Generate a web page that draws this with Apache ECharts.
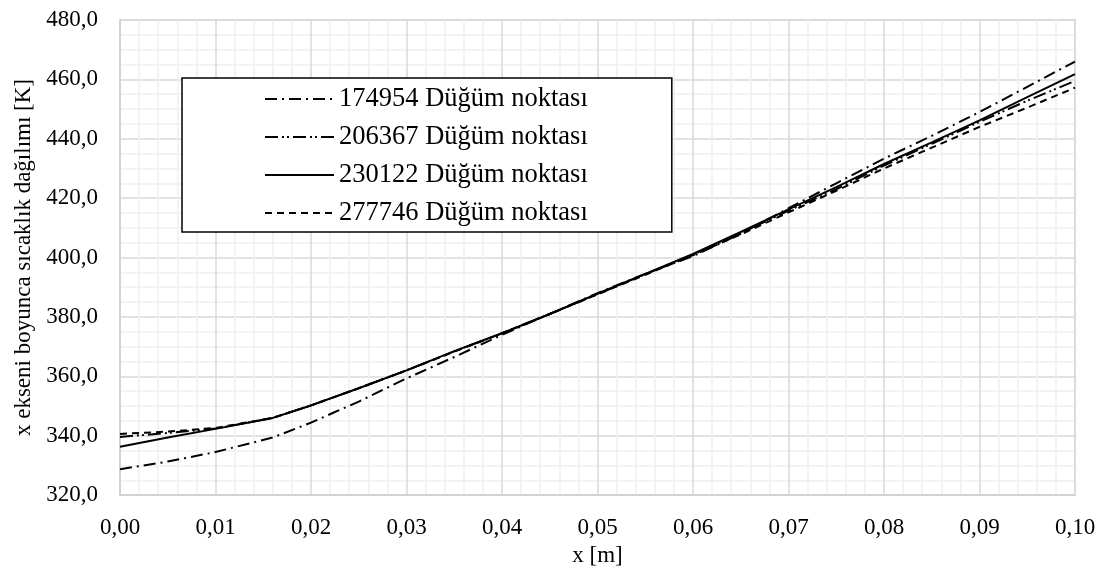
<!DOCTYPE html>
<html>
<head>
<meta charset="utf-8">
<script src="https://cdn.jsdelivr.net/npm/echarts@6/dist/echarts.min.js"></script>
<style>
  html, body { margin: 0; padding: 0; background: #fff; }
  #chart { width: 1104px; height: 572px; }
</style>
</head>
<body>
<div id="chart"></div>
<script>
// Position along the x axis [m]
const xPositions = [0, 0.005, 0.01, 0.016, 0.02, 0.025, 0.03, 0.035, 0.04, 0.045, 0.05,
                    0.055, 0.06, 0.065, 0.07, 0.075, 0.08, 0.085, 0.09, 0.095, 0.1];

// Temperature [K] for each mesh size
const mesh174954 = [328.7, 331.3, 334.5, 339.4, 344.4, 351.5, 359.3, 366.5, 374.0, 381.0, 388.0,
                    394.5, 400.5, 408.0, 416.6, 425.0, 433.3, 441.0, 449.0, 457.5, 466.0];
const mesh206367 = [339.6, 340.9, 342.4, 346.0, 350.2, 356.0, 362.0, 368.4, 374.5, 381.0, 387.7,
                    394.4, 401.0, 408.2, 415.8, 423.0, 431.0, 438.3, 445.7, 452.8, 459.5];
const mesh230122 = [336.3, 339.4, 342.3, 346.0, 350.2, 356.0, 362.0, 368.5, 374.5, 381.0, 387.8,
                    394.5, 401.2, 408.6, 416.2, 423.7, 431.5, 438.8, 446.2, 454.0, 461.8];
const mesh277746 = [340.6, 341.4, 342.6, 346.0, 350.2, 356.0, 362.0, 368.3, 374.5, 381.0, 387.6,
                    394.2, 400.8, 407.8, 415.2, 422.5, 430.0, 437.0, 444.0, 450.5, 457.2];

const seriesNames = ['174954 Düğüm noktası', '206367 Düğüm noktası',
                     '230122 Düğüm noktası', '277746 Düğüm noktası'];
const seriesValues = [mesh174954, mesh206367, mesh230122, mesh277746];

// Axis ranges and tick steps
const xMin = 0, xMax = 0.1, xStep = 0.01;
const yMin = 320, yMax = 480, yStep = 20;

// Line patterns: dash-dot, dash-dot-dot, solid, dashed
const dashPatterns = [[12, 5, 2, 5], [13, 4, 2, 3, 2, 4], 'solid', [7, 5]];

const serif = '"Liberation Serif", "Times New Roman", serif';

const chart = echarts.init(document.getElementById('chart'), null, { renderer: 'canvas' });

chart.setOption({
  animation: false,
  backgroundColor: '#ffffff',
  textStyle: { fontFamily: serif, color: '#000' },
  grid: {
    left: 120, right: 29, top: 20, bottom: 72,
    show: true, borderColor: '#d9d9d9', borderWidth: 1.5
  },
  legend: {
    orient: 'vertical',
    left: 182, top: 78,
    padding: [6, 84, 4, 82],
    backgroundColor: '#fff',
    borderColor: '#000',
    borderWidth: 1.5,
    borderRadius: 0,
    itemWidth: 69,
    itemHeight: 14,
    itemGap: 8,
    selectedMode: false,
    // keep only the line sample in each legend entry
    itemStyle: { color: 'rgba(0,0,0,0)', borderColor: 'rgba(0,0,0,0)', borderWidth: 0, opacity: 0 },
    textStyle: { fontFamily: serif, fontSize: 26.5, color: '#000', lineHeight: 30 },
    data: seriesNames
  },
  xAxis: {
    type: 'value',
    min: xMin, max: xMax, interval: xStep,
    name: 'x [m]',
    nameLocation: 'middle',
    nameGap: 45,
    nameTextStyle: { fontFamily: serif, fontSize: 23, color: '#000' },
    axisLine: { show: true, lineStyle: { color: '#d0d0d0', width: 1.5 } },
    axisTick: { show: false },
    axisLabel: {
      margin: 21, fontFamily: serif, fontSize: 23, color: '#000',
      formatter: v => v.toFixed(2).replace('.', ',')
    },
    splitLine: { show: true, lineStyle: { color: '#d9d9d9', width: 1.5 } },
    minorTick: { show: false, splitNumber: 5 },
    minorSplitLine: { show: true, lineStyle: { color: '#f0f0f0', width: 1.5 } }
  },
  yAxis: {
    type: 'value',
    min: yMin, max: yMax, interval: yStep,
    name: 'x ekseni boyunca sıcaklık dağılımı [K]',
    nameLocation: 'middle',
    nameGap: 82,
    nameTextStyle: { fontFamily: serif, fontSize: 23, color: '#000' },
    axisLine: { show: true, lineStyle: { color: '#d0d0d0', width: 1.5 } },
    axisTick: { show: false },
    axisLabel: {
      margin: 22, fontFamily: serif, fontSize: 23, color: '#000',
      formatter: v => v.toFixed(1).replace('.', ',')
    },
    splitLine: { show: true, lineStyle: { color: '#d9d9d9', width: 1.5 } },
    minorTick: { show: false, splitNumber: 4 },
    minorSplitLine: { show: true, lineStyle: { color: '#f0f0f0', width: 1.5 } }
  },
  series: seriesNames.map((name, i) => ({
    name: name,
    type: 'line',
    symbol: 'none',
    smooth: false,
    z: 10 - i,
    lineStyle: { color: '#000', width: 2, type: dashPatterns[i] },
    itemStyle: { color: '#000' },
    data: xPositions.map((x, j) => [x, seriesValues[i][j]])
  }))
});
</script>
</body>
</html>
